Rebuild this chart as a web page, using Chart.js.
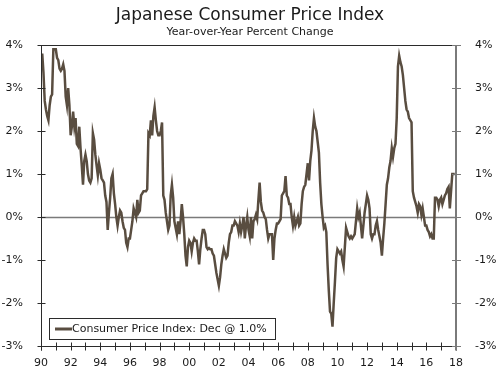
<!DOCTYPE html>
<html>
<head>
<meta charset="utf-8">
<script src="https://cdn.jsdelivr.net/npm/chart.js@4.4.1/dist/chart.umd.min.js"></script>
<style>
  html, body { margin: 0; padding: 0; background: #fff; }
  .chart-container { width: 500px; height: 370px; position: relative; }
</style>
</head>
<body>
<div class="chart-container">
  <canvas id="cpiChart" width="500" height="370"></canvas>
</div>
<script>
const chartTitle = "Japanese Consumer Price Index";
const chartSubtitle = "Year-over-Year Percent Change";
const seriesLabel = "Consumer Price Index: Dec @ 1.0%";

// monthly year-over-year % change, Jan 1990 .. Dec 2017
const startYear = 1990;
const cpiYoY = [
  3.5, 3.8, 3.35, 2.7, 2.5, 2.35, 2.25, 2.6, 2.8, 2.85, 3.9, 3.9,        // 1990
  3.9, 3.7, 3.65, 3.45, 3.4, 3.45, 3.55, 3.4, 2.8, 2.6, 3.0, 2.6,        // 1991
  1.9, 2.1, 2.45, 2.1, 2.3, 1.7, 1.65, 2.1, 1.6, 1.2, 0.75, 1.3,         // 1992
  1.45, 1.3, 1.0, 0.85, 0.8, 0.9, 1.95, 1.8, 1.45, 1.2, 0.97, 1.25,     // 1993
  1.1, 0.9, 0.85, 0.8, 0.5, 0.35, -0.3, 0.1, 0.45, 0.9, 1.0, 0.55,      // 1994
  0.3, 0.0, -0.2, 0.0, 0.15, 0.1, -0.1, -0.25, -0.3, -0.6, -0.7, -0.5,  // 1995
  -0.5, -0.3, -0.1, 0.2, 0.1, 0.0, 0.4, 0.1, 0.15, 0.5, 0.55, 0.6,      // 1996
  0.6, 0.6, 0.65, 1.95, 1.9, 2.25, 1.9, 2.35, 2.55, 2.25, 2.0, 1.9,     // 1997
  1.9, 2.0, 2.2, 0.5, 0.4, 0.1, -0.1, -0.3, -0.2, 0.5, 0.75, 0.45,      // 1998
  -0.1, -0.25, -0.4, -0.1, -0.4, -0.1, 0.3, 0.0, -0.4, -0.9, -1.15, -0.7, // 1999
  -0.55, -0.6, -0.8, -0.6, -0.5, -0.55, -0.55, -0.8, -1.1, -0.75, -0.5, -0.3, // 2000
  -0.3, -0.4, -0.7, -0.75, -0.72, -0.75, -0.75, -0.85, -0.9, -1.1, -1.3, -1.45, // 2001
  -1.6, -1.4, -1.1, -0.9, -0.75, -0.85, -0.95, -0.9, -0.6, -0.4, -0.35, -0.2, // 2002
  -0.2, -0.1, -0.15, -0.2, -0.35, -0.15, -0.35, -0.2, 0.0, -0.5, -0.2, 0.0, // 2003
  -0.3, -0.45, 0.0, -0.5, -0.1, -0.05, 0.05, -0.05, 0.4, 0.8, 0.35, 0.15, // 2004
  0.1, 0.0, -0.05, -0.3, -0.5, -0.4, -0.4, -0.4, -1.0, -0.5, -0.3, -0.15, // 2005
  -0.15, -0.1, -0.05, 0.5, 0.55, 0.6, 0.95, 0.5, 0.45, 0.3, 0.3, 0.0,   // 2006
  -0.2, 0.0, -0.2, -0.1, 0.0, -0.2, -0.15, 0.3, 0.6, 0.7, 0.75, 1.0,    // 2007
  1.25, 0.85, 1.3, 1.55, 2.0, 2.3, 2.1, 2.0, 1.75, 1.5, 0.8, 0.3,       // 2008
  0.0, -0.25, -0.2, -0.35, -1.1, -1.7, -2.2, -2.25, -2.55, -2.0, -1.5, -0.95, // 2009
  -0.75, -0.8, -0.85, -0.8, -1.0, -1.15, -0.7, -0.25, -0.35, -0.45, -0.5, -0.45, // 2010
  -0.5, -0.45, -0.4, -0.1, 0.2, 0.0, 0.1, -0.2, -0.5, -0.2, 0.1, 0.3,   // 2011
  0.5, 0.4, 0.2, -0.4, -0.5, -0.4, -0.4, -0.2, -0.1, -0.3, -0.45, -0.6, // 2012
  -0.9, -0.5, -0.15, 0.3, 0.75, 0.9, 1.15, 1.3, 1.6, 1.4, 1.6, 1.7,     // 2013
  2.3, 3.5, 3.75, 3.6, 3.5, 3.3, 3.0, 2.7, 2.5, 2.45, 2.3, 2.25,        // 2014
  2.2, 0.6, 0.45, 0.35, 0.25, 0.1, 0.3, 0.25, 0.05, 0.2, 0.0, -0.2,     // 2015
  -0.2, -0.3, -0.35, -0.45, -0.4, -0.5, -0.5, 0.45, 0.45, 0.4, 0.25, 0.4, // 2016
  0.45, 0.3, 0.4, 0.5, 0.55, 0.65, 0.7, 0.2, 0.6, 1.0, 1.0, 1.0         // 2017
];

const xTickYears = [1990, 1991, 1992, 1993, 1994, 1995, 1996, 1997, 1998, 1999,
  2000, 2001, 2002, 2003, 2004, 2005, 2006, 2007, 2008, 2009,
  2010, 2011, 2012, 2013, 2014, 2015, 2016, 2017, 2018];
const yTickValues = [-3, -2, -1, 0, 1, 2, 3, 4];

const FONT = "'DejaVu Sans', Verdana, sans-serif";
const LINE_COLOR = "#594d40";
const TEXT_COLOR = "#1a1a1a";

const points = cpiYoY.map((v, i) => ({ x: startYear + i / 12, y: v }));

// axes, ticks, zero line, title and the boxed legend
const framePlugin = {
  id: "frame",
  beforeDatasetsDraw(chart) {
    const { ctx, chartArea: a, scales } = chart;
    const y0 = Math.round(scales.y.getPixelForValue(0)) + 0.5;
    ctx.save();
    ctx.strokeStyle = "#7a7a7a";
    ctx.lineWidth = 1.5;
    ctx.beginPath();
    ctx.moveTo(a.left, y0);
    ctx.lineTo(a.right, y0);
    ctx.stroke();
    ctx.restore();
  },
  afterDatasetsDraw(chart) {
    const { ctx, chartArea: a, scales } = chart;
    const L = Math.round(a.left) + 0.5, R = Math.round(a.right), T = Math.round(a.top) + 0.5, B = Math.round(a.bottom) + 0.5;
    ctx.save();
    // top border
    ctx.strokeStyle = "#2b2b2b";
    ctx.lineWidth = 1;
    ctx.beginPath();
    ctx.moveTo(L, T); ctx.lineTo(R, T);
    ctx.stroke();
    // left + bottom axes
    ctx.beginPath();
    ctx.moveTo(L, T); ctx.lineTo(L, B + 4);
    ctx.moveTo(L, B); ctx.lineTo(R, B);
    ctx.stroke();
    // left ticks
    yTickValues.forEach(v => {
      const py = Math.round(scales.y.getPixelForValue(v)) + 0.5;
      ctx.beginPath();
      ctx.moveTo(L - 4, py); ctx.lineTo(L + 4, py);
      ctx.stroke();
    });
    // bottom ticks
    xTickYears.forEach(v => {
      const px = Math.round(scales.x.getPixelForValue(v)) + 0.5;
      ctx.beginPath();
      ctx.moveTo(px, B - 4); ctx.lineTo(px, B + 4);
      ctx.stroke();
    });
    // right axis (grey)
    ctx.strokeStyle = "#7a7a7a";
    ctx.lineWidth = 2;
    ctx.beginPath();
    ctx.moveTo(R, T - 0.5); ctx.lineTo(R, B + 4);
    ctx.stroke();
    ctx.lineWidth = 1;
    yTickValues.forEach(v => {
      const py = Math.round(scales.y.getPixelForValue(v)) + 0.5;
      ctx.beginPath();
      ctx.moveTo(R - 4, py); ctx.lineTo(R + 5, py);
      ctx.stroke();
    });

    // legend box
    ctx.fillStyle = "#fff";
    ctx.fillRect(49.5, 318.5, 226, 21);
    ctx.strokeStyle = "#2b2b2b";
    ctx.strokeRect(49.5, 318.5, 226, 21);
    ctx.strokeStyle = LINE_COLOR;
    ctx.lineWidth = 3;
    ctx.beginPath();
    ctx.moveTo(55, 329); ctx.lineTo(72, 329);
    ctx.stroke();
    ctx.fillStyle = TEXT_COLOR;
    ctx.font = "11px " + FONT;
    ctx.textAlign = "left";
    ctx.textBaseline = "middle";
    ctx.fillText(seriesLabel, 72, 329.5);

    // titles
    ctx.textAlign = "center";
    ctx.font = "17px " + FONT;
    ctx.fillText(chartTitle, 250, 16);
    ctx.font = "11px " + FONT;
    ctx.fillText(chartSubtitle, 250, 32);
    ctx.restore();
  }
};

const yAxis = (position, width, padding) => ({
  position: position,
  min: -3,
  max: 4,
  afterBuildTicks: s => { s.ticks = yTickValues.map(v => ({ value: v })); },
  afterFit: s => { s.width = width; },
  ticks: {
    padding: padding,
    color: TEXT_COLOR,
    font: { family: FONT, size: 11 },
    callback: v => v + "%"
  },
  grid: { display: false },
  border: { display: false }
});

const ctx = document.getElementById("cpiChart").getContext("2d");
new Chart(ctx, {
  type: "line",
  data: {
    datasets: [{
      label: seriesLabel,
      data: points,
      borderColor: LINE_COLOR,
      borderWidth: 2.5,
      pointRadius: 0,
      tension: 0,
      fill: false
    }]
  },
  options: {
    responsive: false,
    animation: false,
    devicePixelRatio: 1,
    layout: { padding: { top: 45, left: 0, right: 0, bottom: 0 } },
    plugins: {
      legend: { display: false },
      tooltip: { enabled: false },
      title: { display: false }
    },
    scales: {
      x: {
        type: "linear",
        min: 1990,
        max: 2018,
        afterBuildTicks: s => { s.ticks = xTickYears.map(v => ({ value: v })); },
        afterFit: s => { s.height = 24; },
        ticks: {
          autoSkip: false,
          maxRotation: 0,
          padding: 3,
          color: TEXT_COLOR,
          font: { family: FONT, size: 11 },
          callback: v => (v % 2 === 0 ? String(v).slice(2) : "")
        },
        grid: { display: false },
        border: { display: false }
      },
      y: yAxis("left", 41, 10),
      y2: yAxis("right", 44, 11)
    }
  },
  plugins: [framePlugin]
});
</script>
</body>
</html>
